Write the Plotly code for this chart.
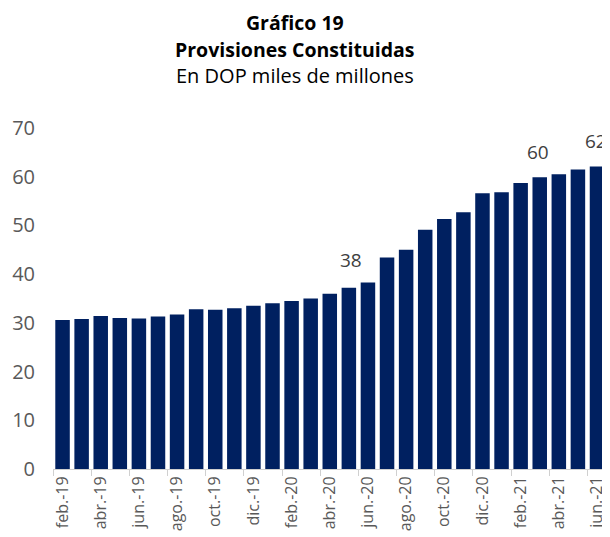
import plotly.graph_objects as go

months = ["feb.-19", "mar.-19", "abr.-19", "may.-19", "jun.-19", "jul.-19", "ago.-19", "sep.-19",
          "oct.-19", "nov.-19", "dic.-19", "ene.-20", "feb.-20", "mar.-20", "abr.-20", "may.-20",
          "jun.-20", "jul.-20", "ago.-20", "sep.-20", "oct.-20", "nov.-20", "dic.-20", "ene.-21",
          "feb.-21", "mar.-21", "abr.-21", "may.-21", "jun.-21"]
values = [30.6, 30.8, 31.4, 31.0, 30.9, 31.3, 31.7, 32.8, 32.7, 33.0, 33.5, 34.0, 34.5, 35.0,
          36.0, 37.2, 38.3, 43.4, 45.0, 49.1, 51.3, 52.7, 56.6, 56.8, 58.7, 59.9, 60.5, 61.5, 62.1]
labeled = {"jun.-20": ("38", -17, 22), "mar.-21": ("60", -2, 25), "jun.-21": ("62", -1, 25)}
title_lines = ["<b>Gráfico 19</b>", "<b>Provisiones Constituidas</b>", "En DOP miles de millones"]

FONT = "Open Sans"
fig = go.Figure(go.Bar(x=months, y=values, marker=dict(color="#002060", line=dict(width=0))))

for m, (txt, xs, ys) in labeled.items():
    fig.add_annotation(x=m, y=values[months.index(m)], text=txt, showarrow=False,
                       xref="x", yref="y", yanchor="middle", yshift=ys, xshift=xs,
                       font=dict(family=FONT, size=19, color="#404040"))

for line, py, sz in zip(title_lines, [1.309, 1.229, 1.155], [19.5, 19.5, 20]):
    fig.add_annotation(x=0.435, y=py, xref="paper", yref="paper", text=line, showarrow=False,
                       xanchor="center", yanchor="middle", borderpad=0,
                       font=dict(family=FONT, size=sz, color="black"))

fig.update_layout(
    width=602, height=529,
    margin=dict(l=45, r=1, t=120, b=68, autoexpand=False),
    paper_bgcolor="white", plot_bgcolor="white",
    bargap=0.24,
    showlegend=False,
    font=dict(family=FONT, color="#595959"),
    xaxis=dict(type="category", tickangle=-90, dtick=2, tickson="boundaries",
               ticks="outside", ticklen=6, tickcolor="#d0d0d0",
               showline=True, linecolor="#d0d0d0", linewidth=1, automargin=False,
               showgrid=False, tickfont=dict(family=FONT, size=16, color="#595959")),
    yaxis=dict(range=[0, 70], dtick=10, showgrid=False, zeroline=False, showline=False,
               ticklabelstandoff=17, automargin=False,
               tickfont=dict(family=FONT, size=20, color="#595959")),
)

fig.write_html("out.html")
